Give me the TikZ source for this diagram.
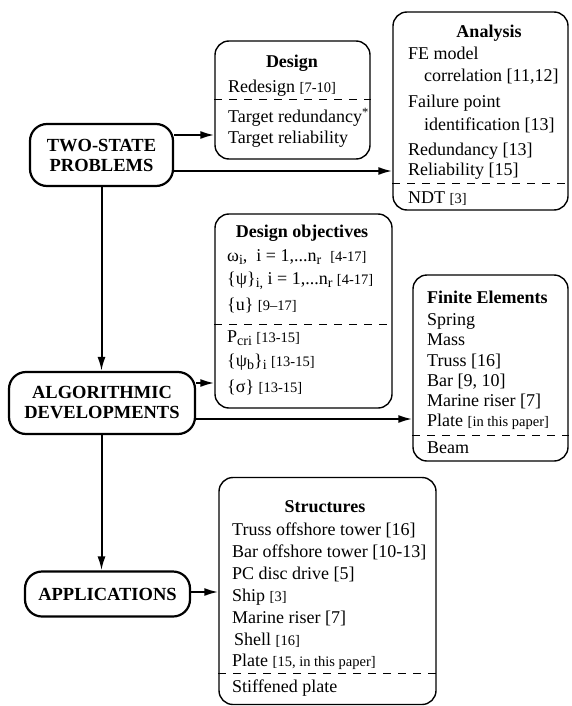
\documentclass[tikz,border=0pt]{standalone}
\usepackage{fontspec}
\setmainfont{Liberation Serif}
\usetikzlibrary{arrows.meta}
\newcommand{\sbx}[1]{\raisebox{-0.45ex}{\fontsize{14}{14}\selectfont #1}}
\newcommand{\cit}[1]{{\fontsize{14.5}{15}\selectfont #1}}
\begin{document}
\begin{tikzpicture}[x=1pt,y=-1pt,
 mainbox/.style={draw, line width=2.2pt, rounded corners=17pt, inner sep=0pt, align=center, font=\fontsize{18.5}{20}\selectfont\bfseries},
 sidebox/.style={draw, line width=1.4pt, rounded corners=14pt, inner sep=0pt},
 txt/.style={anchor=base west, inner sep=0pt, font=\fontsize{18}{18}\selectfont},
 ttl/.style={anchor=base, inner sep=0pt, font=\fontsize{18}{18}\selectfont\bfseries},
 sep/.style={dash pattern=on 8pt off 7pt, line width=1pt},
 conn/.style={line width=2pt, -{Latex[length=14pt,width=8pt]}}
]
\useasboundingbox (0,0) rectangle (571,706);

% main boxes
\node[mainbox, minimum width=143pt, minimum height=62pt] (two) at (101.5,155) {TWO-STATE\\PROBLEMS};
\node[mainbox, minimum width=186pt, minimum height=62pt] (alg) at (102,403) {ALGORITHMIC\\DEVELOPMENTS};
\node[mainbox, minimum width=165pt, minimum height=45pt] (app) at (107.5,594) {APPLICATIONS};

% side boxes
\node[sidebox, minimum width=155pt, minimum height=118pt] (design) at (292.5,100) {};
\node[sidebox, minimum width=175pt, minimum height=198pt] (analysis) at (480.5,111) {};
\node[sidebox, minimum width=177pt, minimum height=194pt] (obj) at (303.5,311) {};
\node[sidebox, minimum width=155pt, minimum height=186pt] (fe) at (490.5,368) {};
\node[sidebox, minimum width=217pt, minimum height=227pt] (str) at (327.5,591) {};

% dashed separators
\coordinate (ds1) at (0,100);
\coordinate (ds2) at (0,183);
\coordinate (ds3) at (0,324);
\coordinate (ds4) at (0,435);
\coordinate (ds5) at (0,673);
\draw[sep] (design.west |- ds1) -- (design.east |- ds1);
\draw[sep] (analysis.west |- ds2) -- (analysis.east |- ds2);
\draw[sep] (obj.west |- ds3) -- (obj.east |- ds3);
\draw[sep] (fe.west |- ds4) -- (fe.east |- ds4);
\draw[sep] (str.west |- ds5) -- (str.east |- ds5);

% Design texts
\node[ttl] (dt) at (292,68) {Design};
\node[txt] (d1) at (228,93) {Redesign \cit{[7-10]}};
\node[txt] (d2) at (228,123) {Target redundancy\textsuperscript{*}};
\node[txt] (d3) at (228,143) {Target reliability};

% Analysis texts
\node[ttl] (at) at (489,38) {Analysis};
\node[txt] (a1) at (408,60) {FE model};
\node[txt] (a2) at (424,82) {correlation [11,12]};
\node[txt] (a3) at (408,108) {Failure point};
\node[txt] (a4) at (424,130) {identification [13]};
\node[txt] (a5) at (408,155) {Redundancy [13]};
\node[txt] (a6) at (408,175) {Reliability [15]};
\node[txt] (a7) at (408,203) {NDT \cit{[3]}};

% Design objectives texts
\node[ttl] (ot) at (302,237) {Design objectives};
\node[txt] (o1) at (227,261) {ω\sbx{i}, \ i = 1,...n\sbx{r} \ \cit{[4-17]}};
\node[txt] (o2) at (227,284) {\{ψ\}\sbx{i,} i = 1,...n\sbx{r} \cit{[4-17]}};
\node[txt] (o3) at (227,310) {\{u\} \cit{[9–17]}};
\node[txt] (o4) at (227,342) {P\sbx{cri} \cit{[13-15]}};
\node[txt] (o5) at (227,366) {\{ψ\sbx{b}\}\sbx{i} \cit{[13-15]}};
\node[txt] (o6) at (227,392) {\{σ\} \cit{[13-15]}};

% Finite elements texts
\node[txt, font=\fontsize{18}{18}\selectfont\bfseries] (ft) at (427,303) {Finite Elements};
\node[txt] (f1) at (427,325) {Spring};
\node[txt] (f2) at (427,345) {Mass};
\node[txt] (f3) at (427,366) {Truss [16]};
\node[txt] (f4) at (427,386) {Bar [9, 10]};
\node[txt] (f5) at (427,406) {Marine riser [7]};
\node[txt] (f6) at (427,426) {Plate \cit{[in this paper]}};
\node[txt] (f7) at (427,453) {Beam};

% Structures texts
\node[ttl] (st) at (325,512) {Structures};
\node[txt] (s1) at (232,535) {Truss offshore tower [16]};
\node[txt] (s2) at (232,557) {Bar offshore tower [10-13]};
\node[txt] (s3) at (232,579) {PC disc drive [5]};
\node[txt] (s4) at (232,601) {Ship \cit{[3]}};
\node[txt] (s5) at (232,623) {Marine riser [7]};
\node[txt] (s6) at (234,645) {Shell \cit{[16]}};
\node[txt] (s7) at (232,666) {Plate \cit{[15, in this paper]}};
\node[txt] (s8) at (232,692) {Stiffened plate};

% connectors
\coordinate (y1) at (0,135);
\coordinate (y2) at (0,171);
\coordinate (y3) at (0,383);
\coordinate (y4) at (0,419);
\coordinate (y5) at (0,592);
\draw[conn] (two.east |- y1) -- (design.west |- y1);
\draw[conn] (two.east |- y2) -- (analysis.west |- y2);
\draw[conn] (alg.east |- y3) -- (obj.west |- y3);
\draw[conn] (alg.east |- y4) -- (fe.west |- y4);
\draw[conn] (app.east |- y5) -- (str.west |- y5);
\draw[conn] (two.south) -- (two.south |- alg.north);
\draw[conn] (two.south |- alg.south) -- (two.south |- app.north);
\end{tikzpicture}
\end{document}
